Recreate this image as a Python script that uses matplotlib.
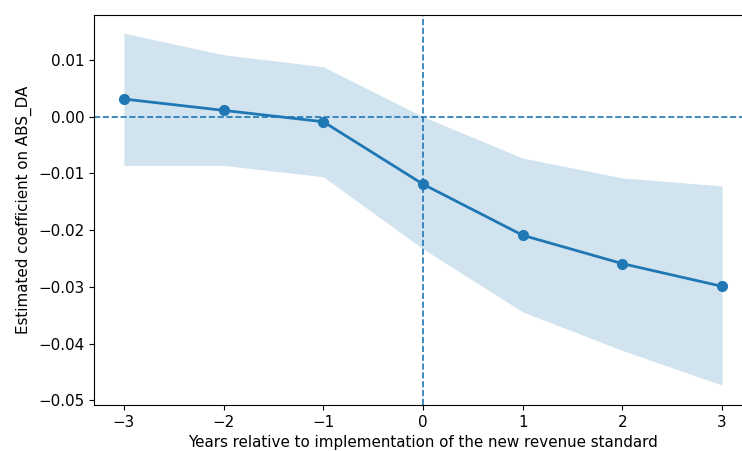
import matplotlib
matplotlib.use("Agg")
import matplotlib.pyplot as plt

plt.rcParams["savefig.bbox"] = "standard"

# Event-study estimates around adoption of the new revenue standard
years = [-3, -2, -1, 0, 1, 2, 3]
coef = [0.0031, 0.0011, -0.0009, -0.0119, -0.0209, -0.0259, -0.0299]
ci_low = [-0.0086, -0.0086, -0.0106, -0.0233, -0.0344, -0.0412, -0.0473]
ci_high = [0.0147, 0.0109, 0.0088, 0.0000, -0.0073, -0.0108, -0.0122]

W, H = 742, 451
fig = plt.figure(figsize=(W / 100, H / 100), dpi=100)
left, right, top, bottom = 94, 752, 15, 405
ax = fig.add_axes([left / W, (H - bottom) / H, (right - left) / W, (bottom - top) / H])

blue = "#1f77b4"
ax.fill_between(years, ci_low, ci_high, color=blue, alpha=0.2, linewidth=0)
ax.plot(years, coef, color=blue, linewidth=2, marker="o", markersize=7)
ax.axhline(0, color=blue, linestyle="--", linewidth=1.2)
ax.axvline(0, color=blue, linestyle="--", linewidth=1.2)

ax.set_xlim(-3.3, 3.3)
ax.set_ylim(-0.0508, 0.0179)
ax.spines["right"].set_visible(False)
ax.set_xticks(years)
ax.set_yticks([-0.05, -0.04, -0.03, -0.02, -0.01, 0.00, 0.01])
ax.set_yticklabels(["\u22120.05", "\u22120.04", "\u22120.03", "\u22120.02", "\u22120.01", "0.00", "0.01"])
ax.set_xticklabels(["\u22123", "\u22122", "\u22121", "0", "1", "2", "3"])
ax.tick_params(labelsize=10.9)

ax.set_xlabel("Years relative to implementation of the new revenue standard", fontsize=10.9)
ax.set_ylabel("Estimated coefficient on ABS_DA", fontsize=10.9)

fig.savefig("out.png", dpi=100)
